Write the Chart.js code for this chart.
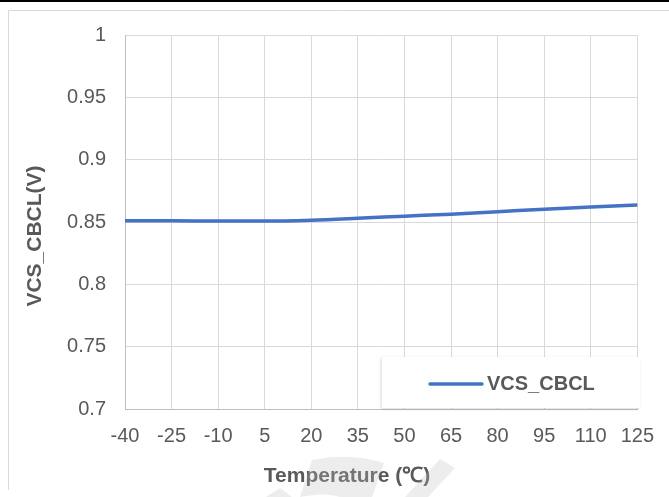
<!DOCTYPE html>
<html>
<head>
<meta charset="utf-8">
<script src="https://cdn.jsdelivr.net/npm/chart.js@4.4.1/dist/chart.umd.min.js"></script>
<style>
  html, body { margin: 0; padding: 0; background: #ffffff; }
  #wrap { width: 669px; height: 497px; position: relative; }
</style>
</head>
<body>
<div id="wrap"><canvas id="chart" width="669" height="497"></canvas></div>
<script>
// Temperature sweep (°C) and measured VCS_CBCL threshold (V)
const temperatures = ['-40', '-25', '-10', '5', '20', '35', '50', '65', '80', '95', '110', '125'];
const vcsCbcl = [0.851, 0.851, 0.8508, 0.8508, 0.8515, 0.853, 0.8547, 0.8563, 0.8582, 0.8603, 0.862, 0.8637];
const seriesName = 'VCS_CBCL';
const yAxisTitle = 'VCS_CBCL(V)';
const xAxisTitle = 'Temperature (\u2103)';

const TEXT = '#595959';
const GRID = '#D9D9D9';
const BLUE = '#4472C4';
const FONT = '"Liberation Sans", Arial, sans-serif';

// page frame: dark rule at the top and a light outline around the figure
const framePlugin = {
  id: 'frame',
  beforeDraw(chart) {
    const ctx = chart.ctx;
    ctx.save();
    ctx.fillStyle = '#ffffff';
    ctx.fillRect(0, 0, chart.width, chart.height);
    ctx.fillStyle = '#000000';
    ctx.fillRect(0, 0, chart.width, 2);
    ctx.strokeStyle = GRID;
    ctx.lineWidth = 1;
    ctx.beginPath();
    ctx.moveTo(8.5, 490);
    ctx.lineTo(8.5, 10.5);
    ctx.lineTo(chart.width, 10.5);
    ctx.stroke();
    ctx.restore();
  }
};

// axis titles placed independently of the scale boxes
const titlesPlugin = {
  id: 'axisTitles',
  afterDraw(chart) {
    const ctx = chart.ctx;
    ctx.save();
    ctx.fillStyle = TEXT;
    ctx.font = 'bold 21px ' + FONT;
    ctx.textAlign = 'center';
    ctx.textBaseline = 'middle';
    ctx.fillText(xAxisTitle, 347, 476);
    ctx.translate(35, 236);
    ctx.rotate(-Math.PI / 2);
    ctx.fillText(yAxisTitle, 0, 0);
    ctx.restore();
  }
};

// legend box sitting in the lower right of the plot
const legendPlugin = {
  id: 'boxLegend',
  afterDraw(chart) {
    const ctx = chart.ctx;
    const ds = chart.data.datasets[0];
    ctx.save();
    ctx.shadowColor = 'rgba(0,0,0,0.15)';
    ctx.shadowBlur = 3;
    ctx.shadowOffsetX = -1;
    ctx.shadowOffsetY = 1;
    ctx.fillStyle = '#ffffff';
    ctx.fillRect(382, 357, 258, 51);
    ctx.restore();
    ctx.save();
    ctx.strokeStyle = ds.borderColor;
    ctx.lineWidth = 3.5;
    ctx.lineCap = 'round';
    ctx.beginPath();
    ctx.moveTo(430, 384);
    ctx.lineTo(482, 384);
    ctx.stroke();
    ctx.fillStyle = TEXT;
    ctx.font = 'bold 20px ' + FONT;
    ctx.textAlign = 'left';
    ctx.textBaseline = 'middle';
    ctx.fillText(ds.label, 487, 384);
    ctx.restore();
  }
};

// faint diagonal mark printed over the lower edge
const markPlugin = {
  id: 'mark',
  afterDraw(chart) {
    const ctx = chart.ctx;
    ctx.save();
    ctx.fillStyle = 'rgba(190,190,190,0.28)';
    ctx.beginPath();
    ctx.moveTo(312, 460);
    ctx.quadraticCurveTo(350, 452, 384, 463);
    ctx.lineTo(372, 497);
    ctx.lineTo(340, 497);
    ctx.quadraticCurveTo(325, 492, 300, 497);
    ctx.closePath();
    ctx.fill();
    ctx.beginPath();
    ctx.moveTo(440, 459);
    ctx.lineTo(455, 468);
    ctx.lineTo(428, 497);
    ctx.lineTo(405, 497);
    ctx.closePath();
    ctx.fill();
    ctx.beginPath();
    ctx.moveTo(266, 497);
    ctx.lineTo(280, 488);
    ctx.lineTo(292, 497);
    ctx.closePath();
    ctx.fill();
    ctx.restore();
  }
};

new Chart(document.getElementById('chart'), {
  type: 'line',
  data: {
    labels: temperatures,
    datasets: [{
      label: seriesName,
      data: vcsCbcl,
      borderColor: BLUE,
      backgroundColor: BLUE,
      borderWidth: 3.5,
      pointRadius: 0,
      tension: 0.4,
      cubicInterpolationMode: 'monotone',
      fill: false
    }]
  },
  options: {
    responsive: false,
    animation: false,
    devicePixelRatio: 1,
    layout: { padding: { top: 35, right: 29, left: 0, bottom: 0 } },
    plugins: {
      legend: { display: false },
      tooltip: { enabled: false },
      title: { display: false }
    },
    scales: {
      x: {
        type: 'category',
        offset: false,
        grid: { color: GRID, lineWidth: 1, drawTicks: false },
        border: { color: '#BFBFBF', width: 1 },
        ticks: {
          color: TEXT,
          font: { family: FONT, size: 20 },
          padding: 15,
          maxRotation: 0,
          autoSkip: false
        },
        afterFit(scale) { scale.height = 88; }
      },
      y: {
        min: 0.7,
        max: 1,
        grid: { color: GRID, lineWidth: 1, drawTicks: false },
        border: { color: '#BFBFBF', width: 1 },
        ticks: {
          stepSize: 0.05,
          color: TEXT,
          font: { family: FONT, size: 20 },
          padding: 19,
          callback: (v) => String(+Number(v).toFixed(2))
        },
        afterFit(scale) { scale.width = 125; }
      }
    }
  },
  plugins: [framePlugin, legendPlugin, titlesPlugin, markPlugin]
});
</script>
</body>
</html>
